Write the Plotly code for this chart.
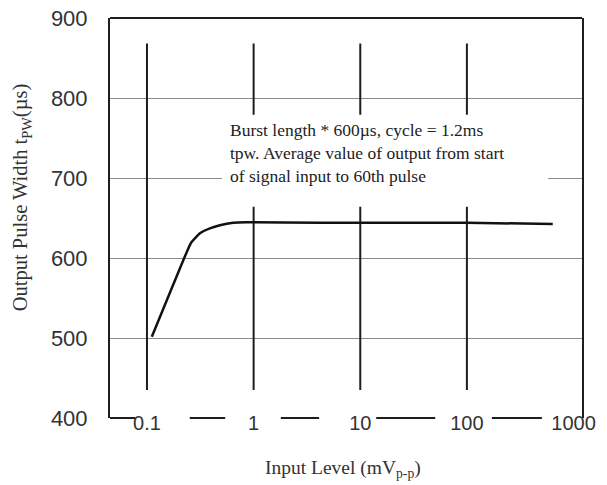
import math
import plotly.graph_objects as go

# ---- data ----
x_tick_vals = [0.1, 1, 10, 100, 1000]
x_tick_text = ["0.1", "1", "10", "100", "1000"]
y_tick_vals = [400, 500, 600, 700, 800, 900]

curve_x = [0.111, 0.244, 0.262, 0.314, 0.389, 0.483, 0.644, 0.86, 4.18, 100, 638]
curve_y = [501.5, 612, 620, 631, 637, 641, 644, 644.6, 644, 644, 642.5]

decade_lines = [0.1, 1, 10, 100]
decade_line_span = [435, 868]

note_text = ("Burst length * 600µs, cycle = 1.2ms<br>"
             "tpw. Average value of output from start<br>"
             "of signal input to 60th pulse")

# ---- layout constants ----
x_range = [0.045, 1200]
y_range = [400, 900]
note_gap_y = [664, 779]
note_gap_x = [0.237, 0.928]           # paper fraction
axis_segments = [(0.0, 0.053), (0.169, 0.244), (0.362, 0.443),
                 (0.564, 0.689), (0.809, 0.915)]   # paper fraction

sans = "Liberation Sans, Arial, sans-serif"
serif = "Liberation Serif, Times New Roman, serif"
ink = "#1e1e1e"

fig = go.Figure()

# vertical decade lines
vx, vy = [], []
for d in decade_lines:
    vx += [d, d, None]
    vy += [decade_line_span[0], decade_line_span[1], None]
fig.add_trace(go.Scatter(x=vx, y=vy, mode="lines",
                         line=dict(color=ink, width=2), hoverinfo="skip",
                         showlegend=False))

# response curve
fig.add_trace(go.Scatter(x=curve_x, y=curve_y, mode="lines",
                         line=dict(color="#111111", width=2.5, shape="spline",
                                   smoothing=0.4),
                         showlegend=False))

shapes = []
# white box behind the note (breaks grid and decade lines)
shapes.append(dict(type="rect", xref="paper", yref="y",
                   x0=note_gap_x[0], x1=note_gap_x[1],
                   y0=note_gap_y[0], y1=note_gap_y[1],
                   fillcolor="white", line=dict(width=0), layer="above"))
# top frame
shapes.append(dict(type="line", xref="paper", yref="paper",
                   x0=0, x1=1, y0=1, y1=1,
                   line=dict(color=ink, width=2)))
# broken bottom axis
for a, b in axis_segments:
    shapes.append(dict(type="line", xref="paper", yref="paper",
                       x0=a, x1=b, y0=0, y1=0,
                       line=dict(color=ink, width=2)))

annotations = [
    dict(text=note_text, xref="paper", yref="paper", x=0.249, y=0.663,
         xanchor="left", yanchor="middle", align="left", showarrow=False,
         font=dict(family=serif, size=17.5, color="#222")),
    dict(text="Output Pulse Width t<sub>PW</sub>(µs)", xref="paper",
         yref="paper", x=-0.186, y=0.55, textangle=-90, showarrow=False,
         xanchor="center", yanchor="middle",
         font=dict(family=serif, size=20.5, color="#333")),
    dict(text="Input Level (mV<sub>p-p</sub>)", xref="paper", yref="paper",
         x=0.493, y=-0.127, showarrow=False, xanchor="center",
         yanchor="middle", font=dict(family=serif, size=19.5, color="#333")),
]

# the page body adds an 8px offset, so the figure is 8px smaller
fig.update_layout(
    width=599, height=477,
    margin=dict(l=102, r=25, t=10, b=67, autoexpand=False),
    paper_bgcolor="white", plot_bgcolor="white",
    shapes=shapes, annotations=annotations,
    xaxis=dict(type="log", range=[math.log10(x_range[0]), math.log10(x_range[1])],
               showline=False, showgrid=False, zeroline=False,
               tickvals=x_tick_vals, ticktext=x_tick_text, ticks="",
               automargin=False,
               ticklabelstandoff=-9, ticklabeloverflow="allow",
               tickfont=dict(family=sans, size=20, color="#333")),
    yaxis=dict(range=y_range, showline=True, mirror=True, linecolor=ink,
               linewidth=2, showgrid=True, gridcolor="#8a8a8a", gridwidth=1,
               zeroline=False, tickvals=y_tick_vals, ticks="",
               automargin=False,
               ticklabelstandoff=16, ticklabeloverflow="allow",
               tickfont=dict(family=sans, size=22, color="#333")),
)

fig.write_html("out.html")
